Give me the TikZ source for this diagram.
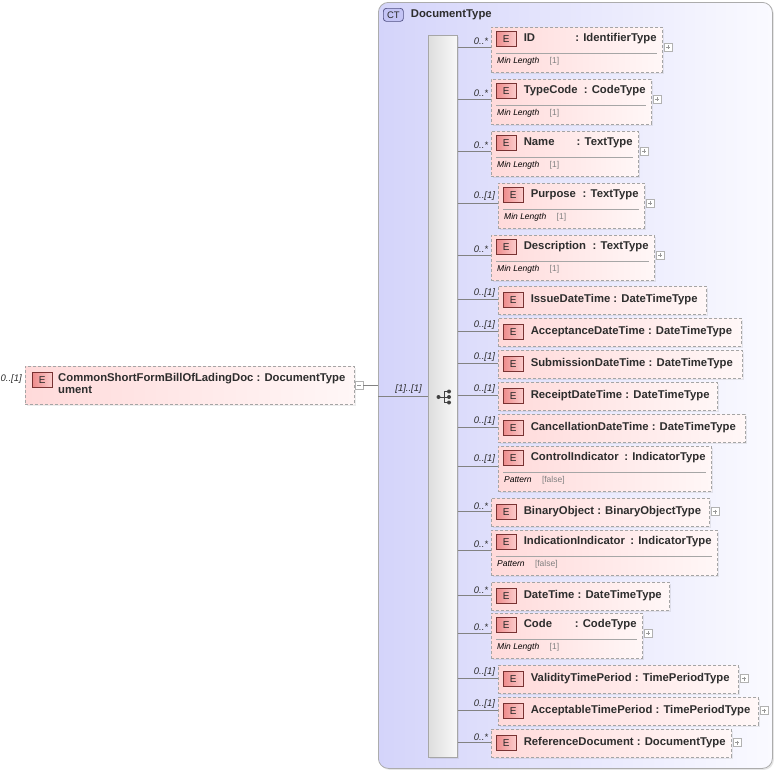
\documentclass[tikz,border=0pt]{standalone}
\usepackage{fontspec}
\setmainfont{Liberation Sans}
\usetikzlibrary{calc,shadows}
\definecolor{ctleft}{RGB}{212,212,250}
\definecolor{ctright}{RGB}{250,250,255}
\definecolor{elleft}{RGB}{255,218,218}
\definecolor{elright}{RGB}{255,247,247}
\definecolor{dashc}{RGB}{165,165,165}
\definecolor{badgeleft}{RGB}{238,140,140}
\definecolor{badgeright}{RGB}{252,205,205}
\definecolor{badgedraw}{RGB}{120,50,50}
\definecolor{connc}{RGB}{130,130,130}
\definecolor{txt}{RGB}{45,45,45}
\definecolor{ctbfill}{RGB}{196,196,245}
\definecolor{ctbdraw}{RGB}{80,80,130}
\definecolor{barl}{RGB}{222,222,222}
\definecolor{barr}{RGB}{248,248,248}
\tikzset{
  elbox/.style={draw=dashc, dash pattern=on 3pt off 2pt, line width=0.8pt,
    left color=elleft, right color=elright, inner sep=0pt,
    drop shadow={opacity=0.15, shadow xshift=1.5pt, shadow yshift=-1.5pt}},
  ebadge/.style={draw=badgedraw, line width=0.6pt, left color=badgeleft, right color=badgeright,
    minimum width=20pt, minimum height=15pt, inner sep=0pt,
    font=\fontsize{10}{10}\selectfont, text=black!85},
  ctbadge/.style={draw=ctbdraw, line width=0.7pt, fill=ctbfill, rounded corners=3pt,
    minimum width=20pt, minimum height=13pt, inner sep=0pt,
    font=\fontsize{9.5}{9.5}\selectfont, text=black!85},
  nametext/.style={inner sep=0pt, text height=8pt, text depth=2pt,
    font=\fontsize{11.3}{13}\selectfont\bfseries, text=txt},
  facetname/.style={inner sep=0pt, text height=6pt, text depth=2pt,
    font=\fontsize{8.5}{10}\selectfont\itshape, text=black},
  facetval/.style={inner sep=0pt, text height=6pt, text depth=2pt,
    font=\fontsize{8.5}{10}\selectfont, text=gray},
  card/.style={inner sep=0pt, font=\fontsize{9.5}{11}\selectfont\itshape, text=txt},
  conn/.style={draw=connc, line width=0.7pt},
  sepline/.style={draw=gray!70, line width=0.7pt},
  plusbox/.style={draw=gray!60, fill=white, minimum size=8pt, inner sep=0pt,
    path picture={\draw[gray!80, line width=0.6pt]
      ([xshift=2pt]path picture bounding box.west) -- ([xshift=-2pt]path picture bounding box.east)
      ([yshift=-2pt]path picture bounding box.north) -- ([yshift=2pt]path picture bounding box.south);}},
  minusbox/.style={draw=gray!60, fill=white, minimum size=8pt, inner sep=0pt,
    path picture={\draw[gray!80, line width=0.6pt]
      ([xshift=2pt]path picture bounding box.west) -- ([xshift=-2pt]path picture bounding box.east);}},
}
\newcommand{\childS}[7]{%
  \node[elbox, minimum width=#4pt, minimum height=28pt, anchor=north west] (#1) at (#2,#3) {};
  \node[ebadge, anchor=north west] (#1E) at ($(#1.north west)+(5,6)$) {E};
  \node[nametext, anchor=west] (#1N) at ($(#1E.east)+(7,0)$) {#5 : #6};
  \coordinate (#1c) at ($(#1.north west)+(0,13.5)$);
  \draw[conn] (bar.east |- #1c) -- (#1c);
  \node[card, anchor=south west] (#1k) at ($(bar.east |- #1c)+(16,-2)$) {#7};
}
\newcommand{\childM}[9]{%
  \node[elbox, minimum width=#4pt, minimum height=45pt, anchor=north west] (#1) at (#2,#3) {};
  \node[ebadge, anchor=north west] (#1E) at ($(#1.north west)+(5,4)$) {E};
  \node[nametext, anchor=west] (#1N) at ($(#1E.east)+(7,0)$) {#5};
  \node[nametext, anchor=east] (#1T) at ($(#1.north east)+(-6,11.5)$) {: #6};
  \draw[sepline] ($(#1.north west)+(5,26)$) -- ($(#1.north east)+(-6,26)$);
  \node[facetname, anchor=west] (#1F) at ($(#1.north west)+(6,34)$) {#8};
  \node[facetval, anchor=west] (#1V) at ($(#1F.east)+(10,0)$) {#9};
  \coordinate (#1c) at ($(#1.north west)+(0,20)$);
  \draw[conn] (bar.east |- #1c) -- (#1c);
  \node[card, anchor=south west] (#1k) at ($(bar.east |- #1c)+(16,-2)$) {#7};
}
\newcommand{\pluson}[1]{\node[plusbox] (#1p) at ($(#1c -| #1.east)+(5.5,0)$) {};}
\begin{document}
\begin{tikzpicture}[x=1pt,y=-1pt]
\useasboundingbox (0,0) rectangle (776,771);
% container
\node[draw=gray!65, line width=0.8pt, rounded corners=10pt, left color=ctleft, right color=ctright,
  minimum width=394pt, minimum height=766pt, inner sep=0pt, anchor=north west,
  drop shadow={opacity=0.2, shadow xshift=1.5pt, shadow yshift=-1.5pt}] (ct) at (378,2) {};
\node[ctbadge, anchor=north west] (ctb) at (383,8) {CT};
\node[nametext, anchor=west] (ctt) at ($(ctb.east)+(7,0)$) {DocumentType};
% sequence bar
\node[draw=gray!70, line width=0.7pt, left color=barl, right color=barr,
  minimum width=29pt, minimum height=722pt, inner sep=0pt, anchor=north west,
  drop shadow={opacity=0.15, shadow xshift=1.2pt, shadow yshift=-1.2pt}] (bar) at (428,35) {};
% sequence icon
\begin{scope}[black!75, line width=0.8pt]
  \fill (438.5,397) circle (2pt);
  \draw (438.5,397) -- (444,397);
  \draw (444,391.5) -- (444,402.5);
  \draw (444,391.5) -- (448,391.5) (444,397) -- (448,397) (444,402.5) -- (448,402.5);
  \fill (449,391.5) circle (2pt) (449,397) circle (2pt) (449,402.5) circle (2pt);
\end{scope}
% root element
\node[elbox, minimum width=329pt, minimum height=38pt, anchor=north west] (root) at (25,366) {};
\node[ebadge, anchor=north west] (rootE) at (32,372) {E};
\node[nametext, anchor=west] (rootN1) at (58,378) {CommonShortFormBillOfLadingDoc : DocumentType};
\node[nametext, anchor=west] (rootN2) at (58,390) {ument};
\node[card, anchor=east] (rootk) at (22,379) {0..[1]};
\node[minusbox] (rootm) at (359,385) {};
\draw[conn] (rootm.east) -- (rootm.east -| ct.west);
\coordinate (seqy) at (0,396);
\draw[conn] (ct.west |- seqy) -- (bar.west |- seqy);
\node[card, anchor=south east] (seqk) at ($(bar.west |- seqy)+(-6,-2)$) {[1]..[1]};
% children
\childM{c1}{491}{27}{171}{ID}{IdentifierType}{0..*}{Min Length}{[1]}\pluson{c1}
\childM{c2}{491}{79}{160}{TypeCode}{CodeType}{0..*}{Min Length}{[1]}\pluson{c2}
\childM{c3}{491}{131}{147}{Name}{TextType}{0..*}{Min Length}{[1]}\pluson{c3}
\childM{c4}{498}{183}{146}{Purpose}{TextType}{0..[1]}{Min Length}{[1]}\pluson{c4}
\childM{c5}{491}{235}{163}{Description}{TextType}{0..*}{Min Length}{[1]}\pluson{c5}
\childS{c6}{498}{286}{208}{IssueDateTime}{DateTimeType}{0..[1]}
\childS{c7}{498}{318}{243}{AcceptanceDateTime}{DateTimeType}{0..[1]}
\childS{c8}{498}{350}{244}{SubmissionDateTime}{DateTimeType}{0..[1]}
\childS{c9}{498}{382}{219}{ReceiptDateTime}{DateTimeType}{0..[1]}
\childS{c10}{498}{414}{247}{CancellationDateTime}{DateTimeType}{0..[1]}
\childM{c11}{498}{446}{213}{ControlIndicator}{IndicatorType}{0..[1]}{Pattern}{[false]}
\childS{c12}{491}{498}{218}{BinaryObject}{BinaryObjectType}{0..*}\pluson{c12}
\childM{c13}{491}{530}{226}{IndicationIndicator}{IndicatorType}{0..*}{Pattern}{[false]}
\childS{c14}{491}{582}{178}{DateTime}{DateTimeType}{0..*}
\childM{c15}{491}{613}{151}{Code}{CodeType}{0..*}{Min Length}{[1]}\pluson{c15}
\childS{c16}{498}{665}{240}{ValidityTimePeriod}{TimePeriodType}{0..[1]}\pluson{c16}
\childS{c17}{498}{697}{260}{AcceptableTimePeriod}{TimePeriodType}{0..[1]}\pluson{c17}
\childS{c18}{491}{729}{240}{ReferenceDocument}{DocumentType}{0..*}\pluson{c18}
\end{tikzpicture}
\end{document}
